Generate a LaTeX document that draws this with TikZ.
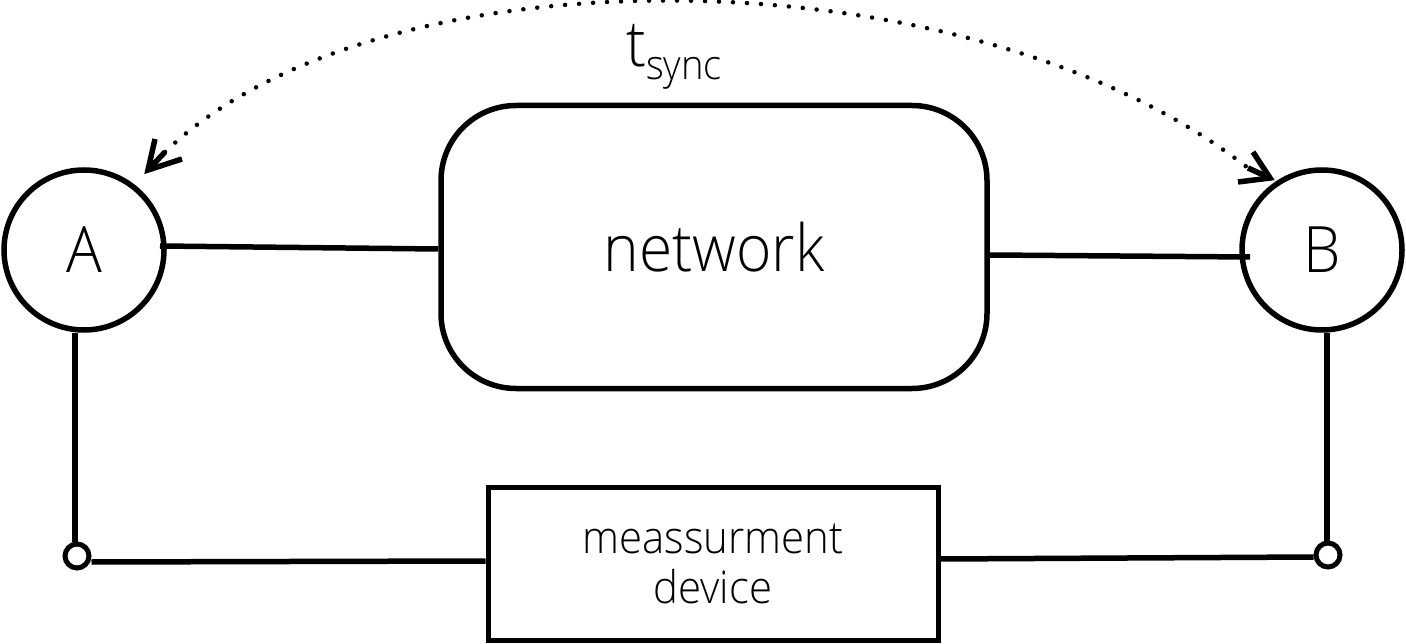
\documentclass[tikz,border=0pt]{standalone}
\usepackage{fontspec}
\setmainfont{Open Sans Light}[FakeStretch=0.93]
\usetikzlibrary{arrows.meta}
\begin{document}
\begin{tikzpicture}[x=1pt,y=-1pt,
  wire/.style={line width=5.5pt},
  station/.style={circle,draw,line width=5.5pt,minimum size=160pt,inner sep=0pt,font=\fontsize{64}{64}\selectfont},
  terminal/.style={circle,draw,line width=5pt,minimum size=24pt,inner sep=0pt,fill=white},
  netbox/.style={draw,line width=5.5pt,rounded corners=75pt,minimum width=546pt,minimum height=283pt,inner sep=0pt,font=\fontsize{65}{65}\selectfont},
  devbox/.style={draw,line width=5pt,minimum width=450pt,minimum height=153pt,inner sep=0pt,align=center,font=\fontsize{45}{50}\selectfont},
  syncline/.style={line width=4.5pt,line cap=round,dash pattern=on 0pt off 14pt},
  synctip/.style={line width=5.5pt,line join=miter}
]
\useasboundingbox (0,0) rectangle (1406,644);
\node[station] (A) at (84,250) {A};
\node[station] (B) at (1322,250) {B};
\node[netbox] (N) at (714,247) {network};
\node[devbox] (D) at (713,564) {meassurment\\device};
\node[terminal] (tA) at (77,556) {};
\node[terminal] (tB) at (1328,555) {};
\coordinate (a1) at (160,246);
\coordinate (b1) at (1250,257);
\draw[wire] (a1) -- (N.west |- 0,249);
\draw[wire] (N.east |- 0,255) -- (b1);
\draw[wire] (A.south -| 75,0) -- (tA.north -| 75,0);
\draw[wire] (tA.east |- 0,562) -- (D.west |- 0,561);
\draw[wire] (D.east |- 0,559) -- (tB.west |- 0,557);
\draw[wire] (B.south -| 1327,0) -- (tB.north -| 1327,0);
% sync arc with open arrowheads
\coordinate (sa) at (148,170);
\coordinate (sb) at (1270,178);
\coordinate (sa0) at (165,152);
\coordinate (sb0) at (1248,168);
\draw[syncline] (sa0) .. controls (380,-55) and (970,-50) .. (sb0);
\draw[synctip] (155,139) -- (sa) -- (182,159);
\draw[synctip] (sa) -- (sa0);
\draw[synctip] (1253,152) -- (sb) -- (1238,182);
\draw[synctip] (sb) -- (sb0);
\node[anchor=base west,inner sep=0pt,font=\fontsize{64}{64}\selectfont] (ts) at (626,67) {t\raisebox{-13pt}{\fontsize{41}{41}\selectfont sync}};
\end{tikzpicture}
\end{document}
